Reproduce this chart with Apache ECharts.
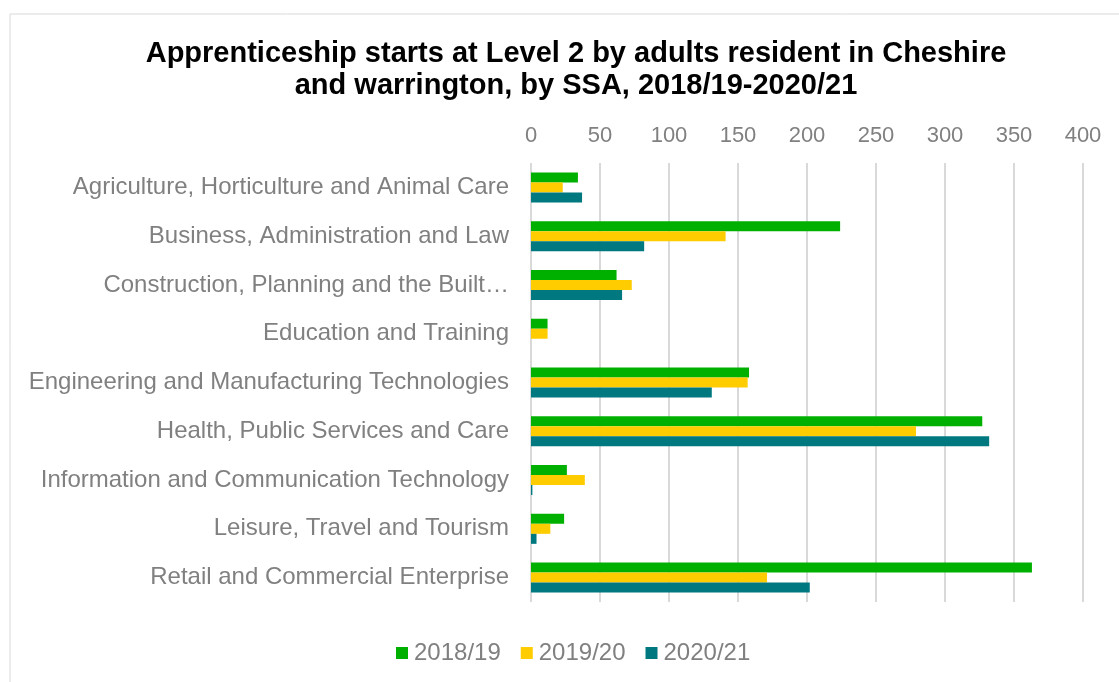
<!DOCTYPE html>
<html>
<head>
<meta charset="utf-8">
<script src="https://cdn.jsdelivr.net/npm/echarts@6/dist/echarts.min.js"></script>
<style>
    html, body { margin: 0; padding: 0; background: #fff; }
    #chart { width: 1119px; height: 682px; }
</style>
</head>
<body>
<div id="chart"></div>
<script>
// categories, top to bottom
var categories = [
    'Agriculture, Horticulture and Animal Care',
    'Business, Administration and Law',
    'Construction, Planning and the Built\u2026',
    'Education and Training',
    'Engineering and Manufacturing Technologies',
    'Health, Public Services and Care',
    'Information and Communication Technology',
    'Leisure, Travel and Tourism',
    'Retail and Commercial Enterprise'
];

var seriesNames = ['2018/19', '2019/20', '2020/21'];

// values
var starts1819 = [34, 224, 62, 12, 158, 327, 26, 24, 363];
var starts1920 = [23, 141, 73, 12, 157, 279, 39, 14, 171];
var starts2021 = [37, 82, 66, 0, 131, 332, 1, 4, 202];

var colors = ['#00B000', '#FFCC00', '#00787F'];

function render(divId) {
    var dom = document.getElementById(divId);
    var myChart = echarts.init(dom);
    var font = 'Liberation Sans, Arial, sans-serif';
    var grey = '#808080';

    var seriesData = [starts1819, starts1920, starts2021];
    var series = seriesData.map(function (data, i) {
        return {
            name: seriesNames[i],
            type: 'bar',
            data: data,
            barWidth: 10,
            barGap: '0%',
            itemStyle: {color: colors[i]},
            emphasis: {disabled: true}
        };
    });

    var option = {
        animation: false,
        color: colors,
        graphic: [{
            type: 'rect',
            shape: {x: 10, y: 14, width: 1200, height: 800},
            style: {fill: 'none', stroke: '#d9d9d9', lineWidth: 1},
            silent: true
        }],
        title: {
            text: 'Apprenticeship starts at Level 2 by adults resident in Cheshire\nand warrington, by SSA, 2018/19-2020/21',
            left: 571,
            top: 33,
            textAlign: 'center',
            textStyle: {
                fontFamily: font,
                fontSize: 29,
                fontWeight: 'bold',
                color: '#000',
                lineHeight: 32
            }
        },
        legend: {
            data: seriesNames,
            top: 636,
            left: 391,
            icon: 'rect',
            itemWidth: 12,
            itemHeight: 12,
            itemGap: 20,
            textStyle: {fontFamily: font, fontSize: 24, color: grey, padding: [0, 0, 0, 1]}
        },
        grid: {
            left: 531,
            right: 36,
            top: 163,
            bottom: 80,
            containLabel: false
        },
        xAxis: {
            type: 'value',
            position: 'top',
            min: 0,
            max: 400,
            interval: 50,
            axisLine: {show: false},
            axisTick: {show: false},
            axisLabel: {fontFamily: font, fontSize: 22, color: grey, margin: 16},
            splitLine: {lineStyle: {color: '#d9d9d9', width: 2}}
        },
        yAxis: {
            type: 'category',
            data: categories,
            inverse: true,
            axisLine: {show: false},
            axisTick: {show: false},
            axisLabel: {fontFamily: font, fontSize: 24, color: grey, margin: 22}
        },
        series: series
    };

    myChart.setOption(option);
}

render('chart');
</script>
</body>
</html>
